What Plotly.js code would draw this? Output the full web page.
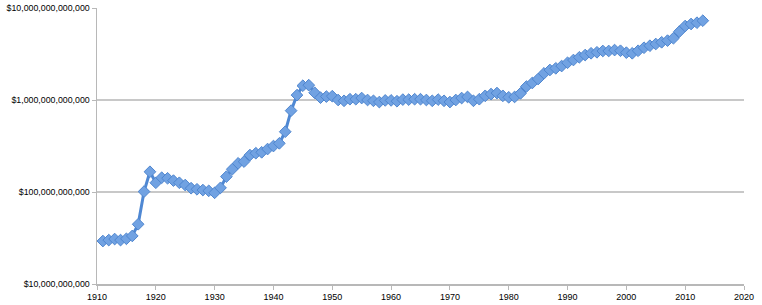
<!DOCTYPE html>
<html>
<head>
<meta charset="utf-8">
<script src="https://cdn.plot.ly/plotly-3.0.1.min.js"></script>
<style>
  html, body { margin: 0; padding: 0; background: #fff; }
  #chart { width: 762px; height: 305px; }
</style>
</head>
<body>
<div id="chart"></div>
<script>
const years = [
  1911,1912,1913,1914,1915,1916,1917,1918,1919,1920,
  1921,1922,1923,1924,1925,1926,1927,1928,1929,1930,
  1931,1932,1933,1934,1935,1936,1937,1938,1939,1940,
  1941,1942,1943,1944,1945,1946,1947,1948,1949,1950,
  1951,1952,1953,1954,1955,1956,1957,1958,1959,1960,
  1961,1962,1963,1964,1965,1966,1967,1968,1969,1970,
  1971,1972,1973,1974,1975,1976,1977,1978,1979,1980,
  1981,1982,1983,1984,1985,1986,1987,1988,1989,1990,
  1991,1992,1993,1994,1995,1996,1997,1998,1999,2000,
  2001,2002,2003,2004,2005,2006,2007,2008,2009,2010,
  2011,2012,2013
];
const debt = [
  2.93e10,3.0e10,3.08e10,3.0e10,3.1e10,3.33e10,4.46e10,1.01e11,1.66e11,1.26e11,
  1.43e11,1.41e11,1.33e11,1.26e11,1.19e11,1.10e11,1.07e11,1.05e11,1.03e11,9.8e10,
  1.11e11,1.47e11,1.77e11,2.05e11,2.14e11,2.52e11,2.64e11,2.70e11,2.93e11,3.16e11,
  3.38e11,4.52e11,7.66e11,1.13e12,1.43e12,1.45e12,1.20e12,1.06e12,1.09e12,1.10e12,
  1.0e12,0.98e12,1.02e12,1.02e12,1.05e12,1.0e12,0.98e12,0.95e12,0.99e12,0.99e12,
  0.97e12,1.01e12,1.01e12,1.02e12,1.02e12,1.0e12,0.98e12,1.01e12,0.98e12,0.95e12,
  1.0e12,1.05e12,1.08e12,0.98e12,1.02e12,1.11e12,1.16e12,1.19e12,1.11e12,1.07e12,
  1.08e12,1.18e12,1.40e12,1.53e12,1.69e12,1.95e12,2.12e12,2.21e12,2.34e12,2.54e12,
  2.72e12,2.91e12,3.08e12,3.22e12,3.30e12,3.41e12,3.41e12,3.49e12,3.43e12,3.27e12,
  3.22e12,3.43e12,3.70e12,3.89e12,4.06e12,4.24e12,4.42e12,4.69e12,5.53e12,6.37e12,
  6.70e12,6.92e12,7.28e12
];
const yTickVals = [1e10, 1e11, 1e12, 1e13];
const yTickText = ["$10,000,000,000", "$100,000,000,000", "$1,000,000,000,000", "$10,000,000,000,000"];
const xTickVals = [1910,1920,1930,1940,1950,1960,1970,1980,1990,2000,2010,2020];

const trace = {
  x: years,
  y: debt,
  type: 'scatter',
  mode: 'lines+markers',
  line: { color: '#4f88d3', width: 3 },
  marker: { symbol: 'diamond', size: 9, color: '#71a2e2', line: { color: '#4f86cf', width: 1 } },
  hoverinfo: 'x+y',
  showlegend: false
};

const layout = {
  width: 762,
  height: 305,
  margin: { l: 97, r: 18, t: 8, b: 21 },
  paper_bgcolor: '#ffffff',
  plot_bgcolor: '#ffffff',
  font: { family: 'Liberation Sans, Arial, sans-serif', size: 9, color: '#111' },
  xaxis: {
    range: [1910, 2020],
    tickvals: xTickVals,
    showgrid: false,
    zeroline: false,
    showline: true,
    linecolor: '#b8b8b8',
    linewidth: 1.5,
    ticks: 'outside',
    ticklen: 4,
    tickcolor: '#b8b8b8',
    tickfont: { size: 9, color: '#000' }
  },
  yaxis: {
    type: 'log',
    range: [10, 13],
    tickvals: yTickVals,
    ticktext: yTickText,
    showgrid: true,
    gridcolor: '#c8c8c8',
    gridwidth: 1.5,
    zeroline: false,
    showline: true,
    linecolor: '#b8b8b8',
    linewidth: 1.5,
    ticks: 'outside',
    ticklen: 4,
    tickcolor: '#b8b8b8',
    tickfont: { size: 8.8, color: '#000' }
  }
};

Plotly.newPlot('chart', [trace], layout, { displayModeBar: false, staticPlot: true });
</script>
</body>
</html>
